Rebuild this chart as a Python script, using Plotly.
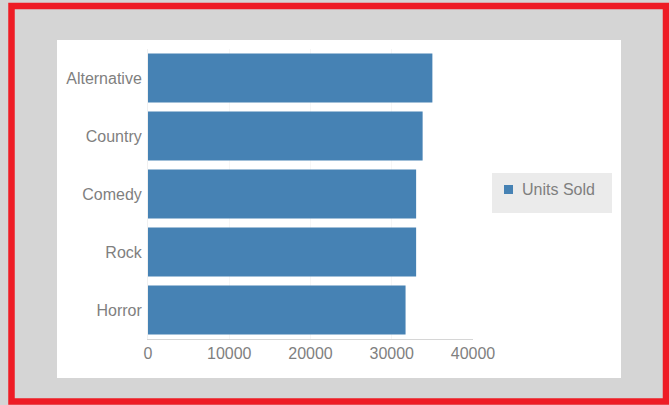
import plotly.graph_objects as go

# data
genres = ["Alternative", "Country", "Comedy", "Rock", "Horror"]
units_sold = [35000, 33800, 33000, 33000, 31700]
x_ticks = [0, 10000, 20000, 30000, 40000]
series_name = "Units Sold"

W, H = 669, 405
ML, MR, MT, MB = 148, 196, 49, 66


# pixel -> paper coords (for the decoration around the plot)
def px(x):
    return (x - ML) / (W - ML - MR)


def py(y):
    return (H - MB - y) / (H - MT - MB)


fig = go.Figure()
fig.add_trace(go.Bar(
    x=units_sold, y=genres, orientation="h", name=series_name,
    marker=dict(color="#4682b4", line=dict(width=0)),
    showlegend=False,
))

shapes = [
    # white panel
    dict(type="rect", xref="paper", yref="paper", layer="below",
         x0=px(57), x1=px(621), y0=py(378), y1=py(40),
         fillcolor="white", line=dict(width=0)),
    # red frame
    dict(type="rect", xref="paper", yref="paper", layer="above",
         x0=px(11.5), x1=px(666), y0=py(401.5), y1=py(6),
         fillcolor="rgba(0,0,0,0)", line=dict(color="#ee1c25", width=6.5)),
    # legend box
    dict(type="rect", xref="paper", yref="paper", layer="below",
         x0=px(492), x1=px(612), y0=py(213), y1=py(173),
         fillcolor="#ebebeb", line=dict(width=0)),
    # legend swatch
    dict(type="rect", xref="paper", yref="paper", layer="above",
         x0=px(504), x1=px(513), y0=py(194), y1=py(185),
         fillcolor="#4682b4", line=dict(width=0)),
]

fig.update_layout(
    width=W, height=H,
    margin=dict(l=ML, r=MR, t=MT, b=MB, pad=0),
    paper_bgcolor="#d5d5d5",
    plot_bgcolor="white",
    font=dict(family="Liberation Sans, Arial, sans-serif", size=16, color="#7f7f7f"),
    bargap=0.155,
    showlegend=False,
    shapes=shapes,
    annotations=[dict(text=series_name, xref="paper", yref="paper",
                      x=px(520), y=py(189.5), xanchor="left", yanchor="middle",
                      showarrow=False, font=dict(size=16, color="#7f7f7f"))],
    xaxis=dict(range=[0, 40000], tickvals=x_ticks, tickformat="d", ticks="",
               showline=True, linecolor="#d6d6d6", linewidth=1,
               showgrid=True, gridcolor="#f6f6f6", zeroline=False,
               fixedrange=True),
    yaxis=dict(autorange="reversed", ticks="", ticklabelstandoff=2,
               showline=True, linecolor="#f0f0f0", showgrid=False,
               fixedrange=True),
)

fig.write_html("out.html", config={"displayModeBar": False},
               post_script="document.body.style.margin='0px';")
